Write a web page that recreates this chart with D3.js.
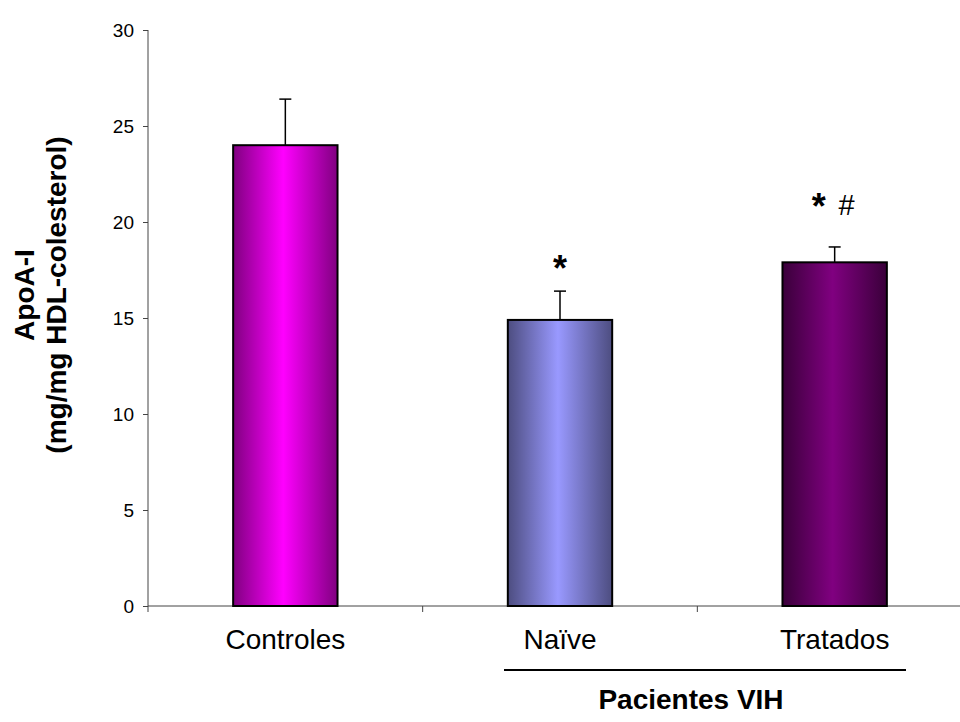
<!DOCTYPE html>
<html>
<head>
<meta charset="utf-8">
<script src="https://cdn.jsdelivr.net/npm/d3@7"></script>
<style>
  html, body { margin: 0; padding: 0; background: #fff; }
  svg { display: block; font-family: Arial, "Liberation Sans", sans-serif; }
</style>
</head>
<body>
<div id="chart"></div>
<script>
;(function() {
  "use strict";

  // Data
  // ---------------------------------------------------------------------------
  var categories = ["Controles", "Naïve", "Tratados"];
  var values     = [24.0, 14.9, 17.9];
  var errors     = [2.4, 1.5, 0.8];
  var marks      = ["", "*", "*"];
  var marks2     = ["", "", "#"];
  var markLevel  = [null, 16.95, 20.15];
  var yTicks     = [0, 5, 10, 15, 20, 25, 30];
  var baseColors = ["#ff00ff", "#9999ff", "#800080"];
  var edgeColors = ["#800080", "#4d4d80", "#3a003a"];

  var width = 960, height = 722;
  var margin = { top: 30, right: -12, bottom: 116, left: 148 };

  var svg = d3.select("#chart").append("svg")
    .attr("width", width)
    .attr("height", height);

  var x = d3.scaleBand()
    .domain(categories)
    .range([margin.left, width - margin.right])
    .padding(0);

  var y = d3.scaleLinear()
    .domain([0, 30])
    .range([height - margin.bottom, margin.top]);

  var barW = x.bandwidth() * 0.38;

  // Gradients
  // ---------------------------------------------------------------------------
  var defs = svg.append("defs");
  categories.forEach(function(c, i) {
    var g = defs.append("linearGradient")
      .attr("id", "grad" + i)
      .attr("x1", "0%").attr("x2", "100%")
      .attr("y1", "0%").attr("y2", "0%");
    g.append("stop").attr("offset", "0%").attr("stop-color", edgeColors[i]);
    g.append("stop").attr("offset", "48%").attr("stop-color", baseColors[i]);
    g.append("stop").attr("offset", "100%").attr("stop-color", edgeColors[i]);
  });

  // Axes
  // ---------------------------------------------------------------------------
  var axisColor = "#444";

  var yAxis = svg.append("g")
    .attr("transform", "translate(" + margin.left + ",0)")
    .call(d3.axisLeft(y).tickValues(yTicks).tickSize(5).tickPadding(9));
  yAxis.select(".domain").remove();
  yAxis.selectAll(".tick line").attr("stroke", axisColor);
  yAxis.selectAll(".tick text")
    .attr("font-size", 19)
    .attr("font-family", "Arial, 'Liberation Sans', sans-serif")
    .attr("fill", "#000");

  svg.append("line")
    .attr("x1", margin.left).attr("x2", margin.left)
    .attr("y1", y(30)).attr("y2", y(0) + 6)
    .attr("stroke", axisColor);

  var xAxis = svg.append("g")
    .attr("transform", "translate(0," + y(0) + ")");
  xAxis.append("line")
    .attr("x1", margin.left).attr("x2", width)
    .attr("stroke", axisColor);
  xAxis.selectAll(".sep")
    .data(categories.slice(1))
    .enter().append("line")
      .attr("class", "sep")
      .attr("x1", function(d) { return x(d); })
      .attr("x2", function(d) { return x(d); })
      .attr("y1", 0).attr("y2", 6)
      .attr("stroke", axisColor);

  xAxis.selectAll(".lbl")
    .data(categories)
    .enter().append("text")
      .attr("class", "lbl")
      .attr("x", function(d) { return x(d) + x.bandwidth() / 2; })
      .attr("y", 43)
      .attr("text-anchor", "middle")
      .attr("font-size", 28)
      .text(function(d) { return d; });

  // Bars
  // ---------------------------------------------------------------------------
  var bars = svg.append("g").selectAll("g")
    .data(categories)
    .enter().append("g");

  bars.append("line")
    .attr("x1", function(d) { return x(d) + x.bandwidth() / 2; })
    .attr("x2", function(d) { return x(d) + x.bandwidth() / 2; })
    .attr("y1", function(d, i) { return y(values[i]); })
    .attr("y2", function(d, i) { return y(values[i] + errors[i]); })
    .attr("stroke", "#000")
    .attr("stroke-width", 1.5);

  bars.append("line")
    .attr("x1", function(d) { return x(d) + x.bandwidth() / 2 - 6; })
    .attr("x2", function(d) { return x(d) + x.bandwidth() / 2 + 6; })
    .attr("y1", function(d, i) { return y(values[i] + errors[i]); })
    .attr("y2", function(d, i) { return y(values[i] + errors[i]); })
    .attr("stroke", "#000")
    .attr("stroke-width", 1.5);

  bars.append("rect")
    .attr("x", function(d) { return x(d) + (x.bandwidth() - barW) / 2; })
    .attr("y", function(d, i) { return y(values[i]); })
    .attr("width", barW)
    .attr("height", function(d, i) { return y(0) - y(values[i]); })
    .attr("fill", function(d, i) { return "url(#grad" + i + ")"; })
    .attr("stroke", "#000")
    .attr("stroke-width", 2);

  // Significance marks
  bars.filter(function(d, i) { return markLevel[i] != null; })
    .append("text")
      .attr("x", function(d, i) {
        var k = categories.indexOf(d);
        return x(d) + x.bandwidth() / 2 + (marks2[k] ? -16 : 0);
      })
      .attr("y", function(d) { return y(markLevel[categories.indexOf(d)]); })
      .attr("text-anchor", "middle")
      .attr("font-size", 36)
      .attr("font-weight", "bold")
      .text(function(d) { return marks[categories.indexOf(d)]; });

  bars.filter(function(d, i) { return marks2[i] !== ""; })
    .append("text")
      .attr("x", function(d) { return x(d) + x.bandwidth() / 2 + 12; })
      .attr("y", function(d) { return y(markLevel[categories.indexOf(d)]) - 4; })
      .attr("text-anchor", "middle")
      .attr("font-size", 29)
      .text(function(d) { return marks2[categories.indexOf(d)]; });

  // Group line + label
  // ---------------------------------------------------------------------------
  svg.append("line")
    .attr("x1", 504).attr("x2", 906)
    .attr("y1", 670).attr("y2", 670)
    .attr("stroke", "#000")
    .attr("stroke-width", 2);

  svg.append("text")
    .attr("x", 691).attr("y", 709)
    .attr("text-anchor", "middle")
    .attr("font-size", 28)
    .attr("font-weight", "bold")
    .text("Pacientes VIH");

  // Y label
  var yl = svg.append("text")
    .attr("transform", "translate(34,295) rotate(-90)")
    .attr("text-anchor", "middle")
    .attr("font-size", 28)
    .attr("font-weight", "bold");
  yl.append("tspan").attr("x", 0).attr("y", 0).text("ApoA-I");
  yl.append("tspan").attr("x", 0).attr("y", 32).text("(mg/mg HDL-colesterol)");
})();
</script>
</body>
</html>
